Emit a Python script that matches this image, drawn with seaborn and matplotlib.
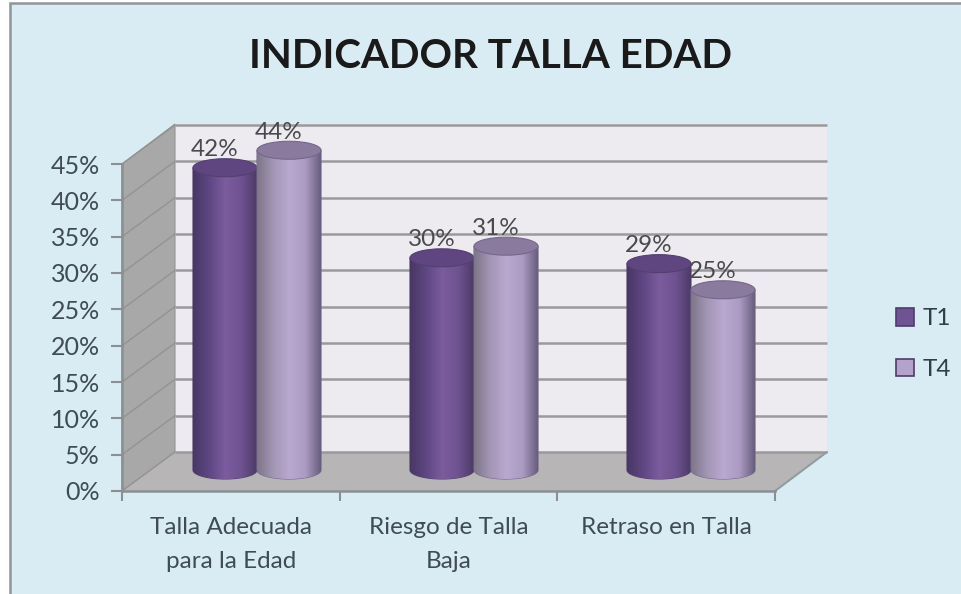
import numpy as np
import pandas as pd
import matplotlib
matplotlib.use("Agg")
import matplotlib.pyplot as plt
from matplotlib.colors import LinearSegmentedColormap
from matplotlib.patches import Ellipse, Polygon, Rectangle
import seaborn as sns

categories = ["Talla Adecuada\npara la Edad", "Riesgo de Talla\nBaja", "Retraso en Talla"]
t1_values = [41.6, 29.2, 28.4]
t4_values = [44.0, 30.8, 24.8]
t1_labels = ["42%", "30%", "29%"]
t4_labels = ["44%", "31%", "25%"]
y_ticks = [0, 5, 10, 15, 20, 25, 30, 35, 40, 45]
title = "INDICADOR TALLA EDAD"

W, H = 961, 594
PX = 327 / 45
sns.set_theme(style="white")
plt.rcParams["font.family"] = ["Lato", "DejaVu Sans"]
TXT = "#3f4c55"


def box(x0, y0, x1, y1):
    return [x0 / W, 1 - y1 / H, (x1 - x0) / W, (y1 - y0) / H]


fig = plt.figure(figsize=(W / 100, H / 100), dpi=100, facecolor="white")

# Frame and 3D walls, in pixel coordinates
deco = fig.add_axes([0, 0, 1, 1], zorder=0)
deco.set_xlim(0, W)
deco.set_ylim(H, 0)
deco.axis("off")
deco.add_patch(Rectangle((10, 3), W - 8, H, fc="#DAECF3", ec="#8f9699", lw=1.8))
deco.add_patch(Rectangle((175, 124), 652, 328, fc="#EEEBF0", ec="none"))
for v in y_ticks:
    yb = 452 - v * PX
    deco.plot([175, 827], [yb, yb], color="#999a9c", lw=1.8, solid_capstyle="butt")
deco.add_patch(Polygon([(122, 164), (175, 124), (175, 452), (122, 491)], fc="#a8a8a8", ec="#949494", lw=0.8))
deco.add_patch(Polygon([(122, 491), (175, 452), (827, 452), (775, 491)], fc="#b7b5b6", ec="none"))
for v in y_ticks:
    yf = 491 - v * PX
    deco.plot([122, 175], [yf, yf - 39], color="#939393", lw=1.0)
deco.plot([775, 827], [491, 452], color="#8f9ea3", lw=1.5)

# Front axes with ticks and labels
front = fig.add_axes(box(122, 164, 775, 491), zorder=1, facecolor="none")
front.set_xlim(0, 3)
front.set_ylim(0, 45)
front.set_yticks(y_ticks)
front.set_yticklabels([f"{v}%" for v in y_ticks], fontsize=18, color=TXT)
front.set_xticks([0, 1, 2, 3])
front.set_xticklabels([])
front.set_xticks([0.5, 1.5, 2.5], minor=True)
front.set_xticklabels(categories, minor=True, fontsize=17.5, color=TXT, linespacing=1.72)
front.tick_params(axis="x", which="major", length=7, width=1.5, color="#8a8f92", bottom=True)
front.tick_params(axis="x", which="minor", length=0, pad=19, bottom=False)
front.tick_params(axis="y", length=8, width=1.5, color="#8a8f92", left=True, pad=8)
sns.despine(ax=front, top=True, right=True)
for s in ("left", "bottom"):
    front.spines[s].set_color("#8a8f92")
    front.spines[s].set_linewidth(1.8)

# Cylinders: bars in an axes displaced towards the back wall
bars_ax = fig.add_axes(box(148.5, 470 - 48 * PX, 799.5, 470 + 3 * PX), zorder=2, facecolor="none")
df = pd.DataFrame({
    "cat": categories * 2,
    "serie": ["T1"] * 3 + ["T4"] * 3,
    "valor": t1_values + t4_values,
})
sns.barplot(data=df, x="cat", y="valor", hue="serie", ax=bars_ax, width=0.59, gap=0,
            palette=["#6f5392", "#b3a2c9"], edgecolor="#4d3d6b", linewidth=1.2, saturation=1)
bars_ax.set_xlim(-0.5, 2.5)
bars_ax.set_ylim(-3, 48)

styles = [
    (["#483764", "#5f4783", "#7b5c9e", "#6e5290", "#4a3964"], "#5f4680", "#54406f"),
    (["#7d7688", "#a396b5", "#b9a8d0", "#ab9ac2", "#64597a"], "#8a7b9e", "#75678c"),
]
grad = np.linspace(0, 1, 256).reshape(1, -1)
EH = 18 / PX
for i, (container, (cols, topc, edge), labs) in enumerate(zip(bars_ax.containers, styles, [t1_labels, t4_labels])):
    cmap = LinearSegmentedColormap.from_list(f"c{i}", cols)
    for bar, lab in zip(container, labs):
        x0, w, top = bar.get_x(), bar.get_width(), bar.get_height()
        cx = x0 + w / 2
        t = np.linspace(np.pi, 2 * np.pi, 60)
        arc = np.column_stack([cx + w / 2 * np.cos(t), EH / 2 * np.sin(t)])
        pts = np.vstack([[[x0, top]], arc, [[x0 + w, top]]])
        body = Polygon(pts, closed=True, fc="none", ec=edge, lw=0.8, zorder=3 + i)
        bars_ax.add_patch(body)
        bar.set_clip_path(body)
        im = bars_ax.imshow(grad, extent=(x0, x0 + w, -EH, top), aspect="auto", cmap=cmap, zorder=3 + i)
        im.set_clip_path(body)
        bars_ax.add_patch(Ellipse((cx, top), w, EH, fc=topc, ec=edge, lw=0.8, zorder=3.5 + i))
        bars_ax.annotate(lab, (cx, top), xytext=(-7.5, 13), textcoords="offset points", ha="center",
                         va="center", fontsize=17.5, color="#4a4a4c", zorder=2.5)
bars_ax.set_xlim(-0.5, 2.5)
bars_ax.set_ylim(-3, 48)
bars_ax.axis("off")

sns.move_legend(bars_ax, "center left", bbox_to_anchor=(874 / W, 1 - 344 / H), bbox_transform=fig.transFigure,
                frameon=False, title=None, fontsize=17.5, labelspacing=1.2,
                handlelength=0.75, handleheight=0.75, handletextpad=0.35, labelcolor="#2f4045")

fig.text(490 / W, 1 - 56 / H, title, ha="center", va="center", fontsize=29, fontweight="bold", color="#1a1a1a")

fig.savefig("out.png", dpi=100)
